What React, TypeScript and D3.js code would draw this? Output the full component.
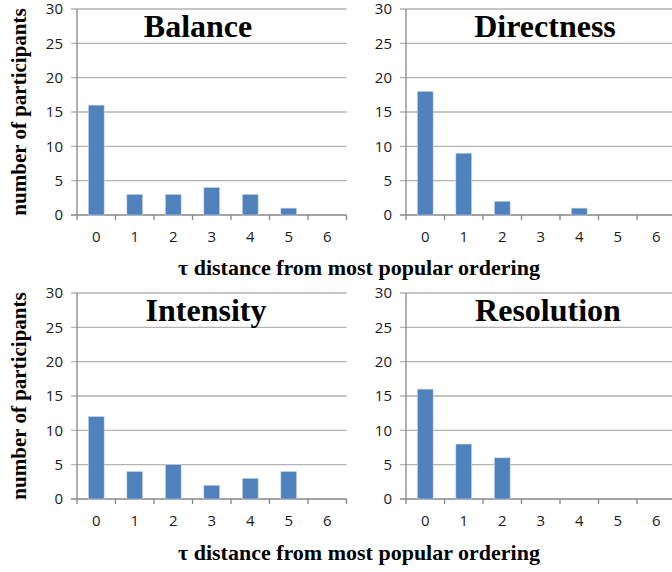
import React from "react";
import * as d3 from "d3";

const categories = ["0", "1", "2", "3", "4", "5", "6"];
const yTicks = [0, 5, 10, 15, 20, 25, 30];
const balance = [16, 3, 3, 4, 3, 1, 0];
const directness = [18, 9, 2, 0, 1, 0, 0];
const intensity = [12, 4, 5, 2, 3, 4, 0];
const resolution = [16, 8, 6, 0, 0, 0, 0];
const titles = ["Balance", "Directness", "Intensity", "Resolution"];
const xTitle = "τ distance from most popular ordering";
const yTitle = "number of participants";

const serif = "'Liberation Serif', 'DejaVu Serif', serif";
const sans = "'Open Sans', 'Noto Sans', sans-serif";

type PanelProps = { x0: number; yTop: number; yBottom: number; values: number[]; title: string; titleX: number };

function Panel({ x0, yTop, yBottom, values, title, titleX }: PanelProps) {
  const step = 38.5;
  const x = d3.scaleBand<string>().domain(categories).range([x0, x0 + step * categories.length]).padding(0);
  const y = d3.scaleLinear().domain([0, 30]).range([yBottom, yTop]);
  const bw = x.bandwidth() * 0.41;
  const right = x0 + step * categories.length;
  return (
    <g>
      {yTicks.map((t) => (
        <g key={t}>
          <line x1={x0 - 6} x2={right} y1={y(t)} y2={y(t)} stroke={t === 0 ? "#868686" : "#b3b3b3"} strokeWidth={1.3} />
          <text x={x0 - 14} y={y(t)} dy="0.36em" textAnchor="end" fontFamily={sans} fontSize={15} fill="#1a1a1a">{t}</text>
        </g>
      ))}
      <line x1={x0} x2={x0} y1={yTop} y2={yBottom + 5} stroke="#868686" strokeWidth={1.3} />
      {categories.map((c) => (
        <g key={c}>
          <line x1={(x(c) as number) + step} x2={(x(c) as number) + step} y1={yBottom} y2={yBottom + 5} stroke="#868686" strokeWidth={1.3} />
          <text x={(x(c) as number) + step / 2} y={yBottom + 22} dy="0.36em" textAnchor="middle" fontFamily={sans} fontSize={15} fill="#1a1a1a">{c}</text>
        </g>
      ))}
      {values.map((v, i) => (
        v > 0 ? (
          <rect key={i} x={(x(categories[i]) as number) + step / 2 - bw / 2} y={y(v)} width={bw} height={y(0) - y(v)} fill="#4f81bd" stroke="#c7d5ea" strokeWidth={0.6} />
        ) : null
      ))}
      <text x={titleX} y={yTop + 28} textAnchor="middle" fontFamily={serif} fontWeight="bold" fontSize={32} fill="#000">{title}</text>
    </g>
  );
}

export default function App() {
  return (
    <svg width={672} height={572} style={{ position: "absolute", left: 0, top: 0, background: "#fff" }}>
      <rect width={672} height={572} fill="#fff" />
      <Panel x0={77} yTop={9} yBottom={215} values={balance} title={titles[0]} titleX={198} />
      <Panel x0={406} yTop={9} yBottom={215} values={directness} title={titles[1]} titleX={545} />
      <Panel x0={77} yTop={293} yBottom={499} values={intensity} title={titles[2]} titleX={206} />
      <Panel x0={406} yTop={293} yBottom={499} values={resolution} title={titles[3]} titleX={548} />
      <text transform="translate(26,112) rotate(-90)" textAnchor="middle" fontFamily={serif} fontWeight="bold" fontSize={21} fill="#000">{yTitle}</text>
      <text transform="translate(26,396) rotate(-90)" textAnchor="middle" fontFamily={serif} fontWeight="bold" fontSize={21} fill="#000">{yTitle}</text>
      <text x={359} y={275} textAnchor="middle" fontFamily={serif} fontWeight="bold" fontSize={22} fill="#000">{xTitle}</text>
      <text x={359} y={560} textAnchor="middle" fontFamily={serif} fontWeight="bold" fontSize={22} fill="#000">{xTitle}</text>
    </svg>
  );
}
